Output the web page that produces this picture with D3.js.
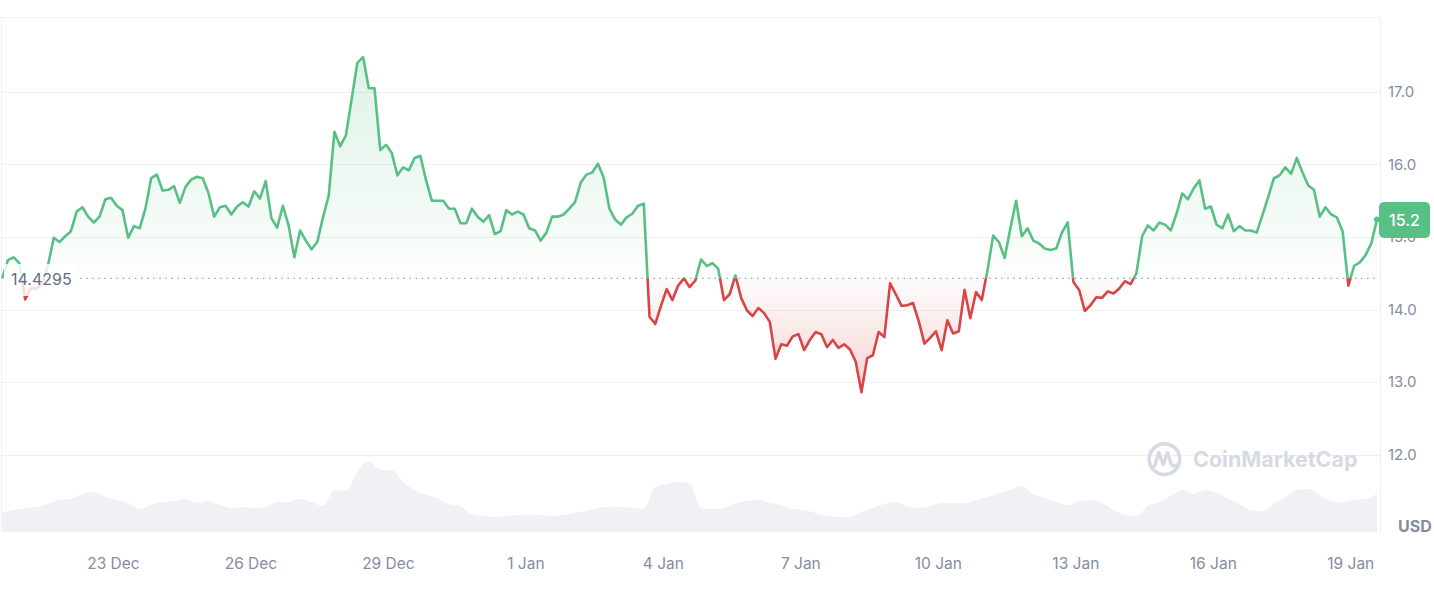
<!DOCTYPE html>
<html><head><meta charset="utf-8">
<script src="https://cdn.jsdelivr.net/npm/d3@7"></script>
<style>
html,body{margin:0;padding:0;background:#fff;}
svg{display:block;font-family:Inter,"Noto Sans",sans-serif;}
</style></head><body>
<svg id="chart" width="1434" height="594"></svg>
<script>
// ---------- data ----------
const startTime = new Date(2024, 11, 20, 14, 0);
const priceStepHours = 3;
const prices = [
  14.43,14.68,14.72,14.64,14.14,14.29,14.29,14.36,14.61,14.99,
  14.93,15.01,15.08,15.35,15.41,15.28,15.20,15.28,15.52,15.54,
  15.43,15.37,14.99,15.15,15.12,15.39,15.81,15.86,15.64,15.65,
  15.70,15.47,15.69,15.79,15.83,15.81,15.61,15.28,15.41,15.43,
  15.31,15.42,15.48,15.42,15.63,15.53,15.77,15.26,15.13,15.43,
  15.16,14.72,15.09,14.95,14.83,14.93,15.27,15.57,16.45,16.25,
  16.40,16.90,17.40,17.48,17.05,17.05,16.20,16.27,16.16,15.85,
  15.96,15.92,16.09,16.12,15.78,15.50,15.50,15.50,15.39,15.39,
  15.19,15.19,15.39,15.28,15.21,15.30,15.04,15.08,15.37,15.31,
  15.35,15.31,15.12,15.09,14.95,15.06,15.28,15.28,15.31,15.39,
  15.48,15.75,15.86,15.89,16.01,15.82,15.39,15.24,15.17,15.27,
  15.32,15.43,15.46,13.90,13.80,14.05,14.28,14.13,14.33,14.43,
  14.31,14.40,14.69,14.60,14.64,14.56,14.13,14.21,14.47,14.16,
  13.99,13.91,14.02,13.95,13.83,13.32,13.52,13.50,13.63,13.66,
  13.44,13.58,13.69,13.66,13.48,13.58,13.47,13.52,13.45,13.28,
  12.86,13.33,13.37,13.69,13.62,14.36,14.21,14.05,14.06,14.09,
  13.84,13.53,13.61,13.70,13.44,13.85,13.67,13.70,14.27,13.88,
  14.24,14.13,14.54,15.02,14.93,14.71,15.12,15.50,15.01,15.12,
  14.95,14.91,14.84,14.82,14.84,15.06,15.20,14.38,14.27,13.98,
  14.06,14.17,14.16,14.25,14.22,14.29,14.39,14.35,14.50,15.01,
  15.16,15.09,15.20,15.17,15.09,15.32,15.60,15.52,15.67,15.78,
  15.39,15.42,15.17,15.12,15.31,15.08,15.15,15.09,15.09,15.06,
  15.30,15.55,15.81,15.85,15.96,15.87,16.09,15.89,15.71,15.65,
  15.28,15.41,15.31,15.27,15.08,14.33,14.60,14.65,14.75,14.91,
  15.24
];
const volumeStepHours = 6;
const volumes = [
  20,22,24,25,28,32,33,38,40,35,32,29,23,27,30,31,33,29,31,27,
  24,25,24,25,30,30,33,30,26,42,41,60,71,62,62,50,42,37,34,28,
  26,18,16,15,16,17,17,17,16,17,19,21,24,25,25,24,23,45,48,50,
  49,24,23,24,29,31,32,29,27,23,22,19,16,15,15,20,24,28,30,26,
  24,26,29,29,29,32,35,39,42,46,38,34,30,27,31,32,29,22,17,16,
  26,30,36,42,38,42,39,33,28,22,21,28,35,42,43,37,31,30,32,33,
  38
];
const referencePrice = 14.4295;
const referenceLabel = "14.4295";
const lastPriceLabel = "15.2";
const yTicks = [12, 13, 14, 15, 16, 17];
const xTickDates = [
  new Date(2024,11,23), new Date(2024,11,26), new Date(2024,11,29),
  new Date(2025,0,1), new Date(2025,0,4), new Date(2025,0,7),
  new Date(2025,0,10), new Date(2025,0,13), new Date(2025,0,16), new Date(2025,0,19)
];
const currencyLabel = "USD";
const watermarkText = "CoinMarketCap";

// ---------- styles ----------
const GREEN = "#58c084", RED = "#d94444";
const GRID = "#eef0f3", AXIS_TEXT = "#858ca2";

const HOUR = 3600e3;
const priceData = prices.map((v,i)=>({t:new Date(+startTime + i*priceStepHours*HOUR), v}));
const volData = volumes.map((v,i)=>({t:new Date(+startTime + i*volumeStepHours*HOUR), v}));

const L = 1, R = 1380, T = 17, B = 532;
const x = d3.scaleTime().domain(d3.extent(priceData, d=>d.t)).range([2.2, 1377]);
const y = d3.scaleLinear().domain([12, 17]).range([454.6, 91.9]);
const yv = d3.scaleLinear().domain([0, 80]).range([B, B-80]);
const baseY = y(referencePrice);

const svg = d3.select("#chart");
const defs = svg.append("defs");

const gG = defs.append("linearGradient").attr("id","gGreen")
  .attr("gradientUnits","userSpaceOnUse").attr("x1",0).attr("x2",0)
  .attr("y1", y(17.5)).attr("y2", baseY);
gG.append("stop").attr("offset",0).attr("stop-color",GREEN).attr("stop-opacity",0.2);
gG.append("stop").attr("offset",1).attr("stop-color",GREEN).attr("stop-opacity",0.02);
const gR = defs.append("linearGradient").attr("id","gRed")
  .attr("gradientUnits","userSpaceOnUse").attr("x1",0).attr("x2",0)
  .attr("y1", baseY).attr("y2", y(12.85));
gR.append("stop").attr("offset",0).attr("stop-color",RED).attr("stop-opacity",0.02);
gR.append("stop").attr("offset",1).attr("stop-color",RED).attr("stop-opacity",0.24);

defs.append("clipPath").attr("id","above").append("rect")
  .attr("x",0).attr("y",0).attr("width",1434).attr("height",baseY);
defs.append("clipPath").attr("id","below").append("rect")
  .attr("x",0).attr("y",baseY).attr("width",1434).attr("height",594-baseY);

// volume
svg.append("path").datum(volData)
  .attr("fill","#eff1f5")
  .attr("d", d3.area().x(d=>x(d.t)).y0(B).y1(d=>yv(d.v)).curve(d3.curveMonotoneX));

// grid lines
svg.append("g").selectAll("line").data(yTicks).join("line")
  .attr("x1",L).attr("x2",R).attr("y1",d=>Math.round(y(d))+0.5).attr("y2",d=>Math.round(y(d))+0.5)
  .attr("stroke",GRID).attr("stroke-width",1);
// frame
svg.append("path").attr("d",`M${L+0.5},${B}V${T+0.5}H${R+0.5}V${B}`)
  .attr("fill","none").attr("stroke",GRID).attr("stroke-width",1.2);

// watermark
const wm = svg.append("g").attr("fill","none").attr("stroke","#d5dae3");
wm.append("circle").attr("cx",1164.5).attr("cy",459.2).attr("r",15.3).attr("stroke-width",3.6);
wm.append("path").attr("d","M1154.5,466 L1158.8,452.5 L1163.2,464.5 L1167.5,452.5 L1171,463.5 Q1173,468 1177,464.5")
  .attr("stroke-width",3.4).attr("stroke-linejoin","round").attr("stroke-linecap","round");
svg.append("text").attr("x",1193).attr("y",467).text(watermarkText)
  .attr("font-size",21.5).attr("font-weight",700).attr("fill","#d5dae3");

// price areas
const area = d3.area().x(d=>x(d.t)).y0(baseY).y1(d=>y(d.v));
svg.append("path").datum(priceData).attr("clip-path","url(#above)")
  .attr("fill","url(#gGreen)").attr("d",area);
svg.append("path").datum(priceData).attr("clip-path","url(#below)")
  .attr("fill","url(#gRed)").attr("d",area);

// baseline dotted
svg.append("line").attr("x1",80).attr("x2",1378).attr("y1",baseY).attr("y2",baseY)
  .attr("stroke","#9aa1ae").attr("stroke-width",1.2).attr("stroke-dasharray","1.5 4.6");

// price lines
const line = d3.line().x(d=>x(d.t)).y(d=>y(d.v));
svg.append("path").datum(priceData).attr("clip-path","url(#above)")
  .attr("fill","none").attr("stroke",GREEN).attr("stroke-width",2.6)
  .attr("stroke-linejoin","round").attr("d",line);
svg.append("path").datum(priceData).attr("clip-path","url(#below)")
  .attr("fill","none").attr("stroke",RED).attr("stroke-width",2.6)
  .attr("stroke-linejoin","round").attr("d",line);

// reference label
svg.append("rect").attr("x",4).attr("y",264).attr("width",74).attr("height",32)
  .attr("fill","#fff").attr("opacity",0.82);
svg.append("text").attr("x",11).attr("y",baseY+1).attr("dy","0.35em")
  .attr("font-size",16).attr("fill","#616e85").text(referenceLabel);

// y axis
const yAxis = svg.append("g").attr("transform",`translate(${R},0)`)
  .call(d3.axisRight(y).tickValues(yTicks).tickFormat(d3.format(".1f")).tickSize(0).tickPadding(8));
yAxis.select(".domain").remove();
yAxis.selectAll("text").attr("font-size",15).attr("fill",AXIS_TEXT).attr("font-family","Inter");

// x axis
const xAxis = svg.append("g").attr("transform","translate(0,564)")
  .call(d3.axisBottom(x).tickValues(xTickDates).tickFormat(d3.timeFormat("%-d %b")).tickSize(0).tickPadding(0));
xAxis.select(".domain").remove();
xAxis.selectAll("text").attr("y",0).attr("dy","0.35em")
  .attr("font-size",15.5).attr("fill",AXIS_TEXT).attr("font-family","Inter");

// currency
svg.append("text").attr("x",1398).attr("y",526).attr("dy","0.35em")
  .attr("font-size",16).attr("font-weight",700).attr("fill","#858ca2").text(currencyLabel);

// last price marker
const last = priceData[priceData.length-1];
svg.append("circle").attr("cx",x(last.t)).attr("cy",y(last.v)).attr("r",3).attr("fill",GREEN);
svg.append("rect").attr("x",1379).attr("y",202).attr("width",51).attr("height",36).attr("rx",5)
  .attr("fill",GREEN);
svg.append("text").attr("x",1404.5).attr("y",220.5).attr("dy","0.35em").attr("text-anchor","middle")
  .attr("font-size",16).attr("font-weight",500).attr("fill","#fff").text(lastPriceLabel);
</script>
</body></html>
